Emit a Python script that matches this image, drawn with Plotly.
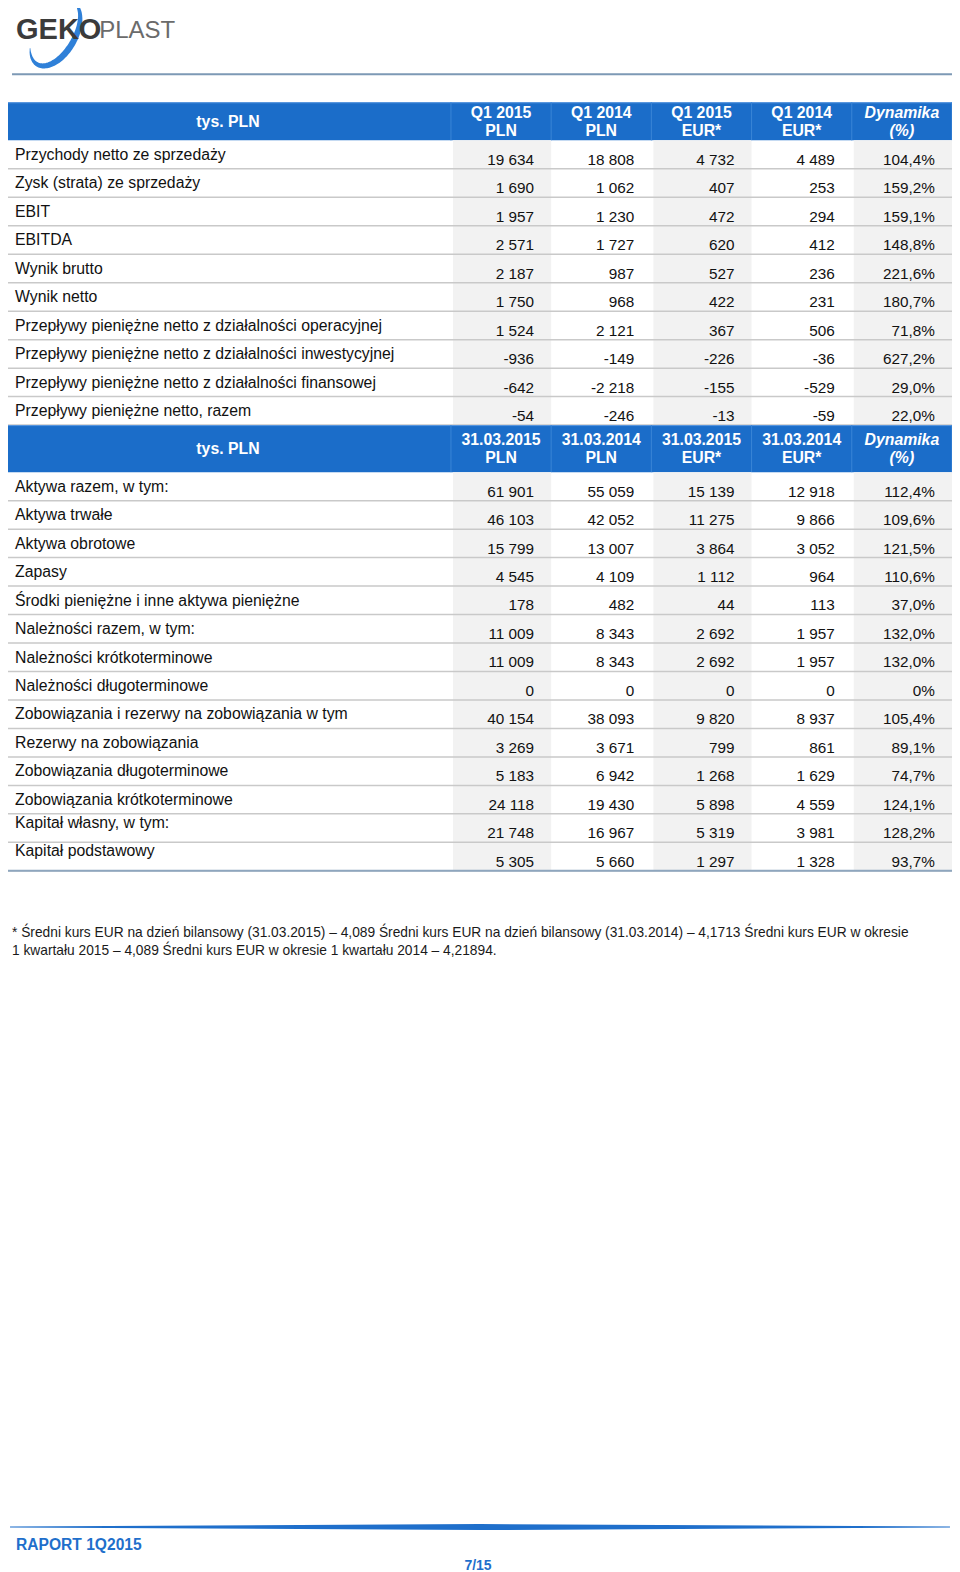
import numpy as np
import plotly.graph_objects as go

# ---- dane ----
naglowek_jednostka = "tys. PLN"

kolumny_1 = ["Q1 2015", "Q1 2014", "Q1 2015", "Q1 2014", "Dynamika"]
kolumny_2 = ["31.03.2015", "31.03.2014", "31.03.2015", "31.03.2014", "Dynamika"]
waluty = ["PLN", "PLN", "EUR*", "EUR*", "(%)"]

pozycje_1 = [
    "Przychody netto ze sprzedaży",
    "Zysk (strata) ze sprzedaży",
    "EBIT",
    "EBITDA",
    "Wynik brutto",
    "Wynik netto",
    "Przepływy pieniężne netto z działalności operacyjnej",
    "Przepływy pieniężne netto z działalności inwestycyjnej",
    "Przepływy pieniężne netto z działalności finansowej",
    "Przepływy pieniężne netto, razem",
]
q1_2015_pln = [19634, 1690, 1957, 2571, 2187, 1750, 1524, -936, -642, -54]
q1_2014_pln = [18808, 1062, 1230, 1727, 987, 968, 2121, -149, -2218, -246]
q1_2015_eur = [4732, 407, 472, 620, 527, 422, 367, -226, -155, -13]
q1_2014_eur = [4489, 253, 294, 412, 236, 231, 506, -36, -529, -59]
dynamika_1 = [104.4, 159.2, 159.1, 148.8, 221.6, 180.7, 71.8, 627.2, 29.0, 22.0]

pozycje_2 = [
    "Aktywa razem, w tym:",
    "Aktywa trwałe",
    "Aktywa obrotowe",
    "Zapasy",
    "Środki pieniężne i inne aktywa pieniężne",
    "Należności razem, w tym:",
    "Należności krótkoterminowe",
    "Należności długoterminowe",
    "Zobowiązania i rezerwy na zobowiązania w tym",
    "Rezerwy na zobowiązania",
    "Zobowiązania długoterminowe",
    "Zobowiązania krótkoterminowe",
    "Kapitał własny, w tym:",
    "Kapitał podstawowy",
]
d2015_pln = [61901, 46103, 15799, 4545, 178, 11009, 11009, 0, 40154, 3269, 5183, 24118, 21748, 5305]
d2014_pln = [55059, 42052, 13007, 4109, 482, 8343, 8343, 0, 38093, 3671, 6942, 19430, 16967, 5660]
d2015_eur = [15139, 11275, 3864, 1112, 44, 2692, 2692, 0, 9820, 799, 1268, 5898, 5319, 1297]
d2014_eur = [12918, 9866, 3052, 964, 113, 1957, 1957, 0, 8937, 861, 1629, 4559, 3981, 1328]
dynamika_2 = [112.4, 109.6, 121.5, 110.6, 37.0, 132.0, 132.0, 0, 105.4, 89.1, 74.7, 124.1, 128.2, 93.7]

przypis = [
    "* Średni kurs EUR na dzień bilansowy (31.03.2015) – 4,089 Średni kurs EUR na dzień bilansowy (31.03.2014) – 4,1713 Średni kurs EUR w okresie",
    "1 kwartału 2015 – 4,089 Średni kurs EUR w okresie 1 kwartału 2014 – 4,21894.",
]
stopka = "RAPORT 1Q2015"
strona = "7/15"

# ---- styl ----
W, H = 960, 1572
UW, UH = 958, 1568  # jednostki osi (skala strony)
OFF = 8  # margines <body> w przegladarce
FONT = "Liberation Sans, Arial, sans-serif"
BLUE = "#1b6dc9"
GRID = "#c9c9c9"
SHADE = "#f2f2f2"
LEFT, RIGHT = 5, 950
COL0 = 450
COLW = 100
ROWH = 28.4
TDY = 1.5  # korekta pionowa tekstu


def fmt(v):
    return f"{v:,}".replace(",", " ")


def fmt_pct(v):
    return "0%" if v == 0 else f"{v:.1f}".replace(".", ",") + "%"


shapes = []
traces = []


def txt(xs, ys, texts, pos, size=15.8, color="#111111", family=FONT):
    traces.append(go.Scatter(x=xs, y=[y + TDY for y in ys], text=texts, mode="text", textposition=pos,
                             textfont=dict(family=family, size=size, color=color),
                             hoverinfo="skip", showlegend=False))


def tabela(top, head_h, kolumny, pozycje, serie, label_dy):
    # naglowek
    shapes.append(dict(type="rect", x0=LEFT, x1=RIGHT, y0=top, y1=top + head_h,
                       fillcolor=BLUE, line=dict(width=0), layer="below"))
    shapes.append(dict(type="line", x0=LEFT, x1=RIGHT, y0=top + 0.5, y1=top + 0.5,
                       line=dict(color="#5d9ae0", width=1), layer="below"))
    for k in range(6):
        xk = COL0 + k * COLW
        shapes.append(dict(type="line", x0=xk, x1=xk, y0=top, y1=top + head_h,
                           line=dict(color="#3a85d6", width=1), layer="below"))
    mid = top + head_h / 2
    txt([(LEFT + COL0) / 2], [mid], [f"<b>{naglowek_jednostka}</b>"], "middle center", color="white")
    cx = [COL0 + COLW * (k + 0.5) for k in range(5)]
    l1, l2 = [], []
    for k in range(5):
        if k == 4:
            l1.append(f"<b><i>{kolumny[k]}</i></b>")
            l2.append(f"<b><i>{waluty[k]}</i></b>")
        else:
            l1.append(f"<b>{kolumny[k]}</b>")
            l2.append(f"<b>{waluty[k]}</b>")
    txt(cx, [mid - 9] * 5, l1, "middle center", color="white")
    txt(cx, [mid + 9] * 5, l2, "middle center", color="white")

    # wiersze
    r0 = top + head_h
    n = len(pozycje)
    r1 = r0 + n * ROWH
    for k in (0, 2, 4):
        shapes.append(dict(type="rect", x0=COL0 + k * COLW + 2, x1=COL0 + (k + 1) * COLW,
                           y0=r0, y1=r1, fillcolor=SHADE, line=dict(width=0), layer="below"))
    for i in range(n):
        yb = r0 + (i + 1) * ROWH
        shapes.append(dict(type="line", x0=LEFT, x1=RIGHT, y0=yb, y1=yb,
                           line=dict(color=GRID, width=1.5), layer="below"))
    ly = [r0 + i * ROWH + label_dy.get(i, 14) for i in range(n)]
    txt([15] * n, ly, pozycje, "middle right")
    vy = [r0 + i * ROWH + 19 for i in range(n)]
    for k, s in enumerate(serie):
        xr = COL0 + (k + 1) * COLW - 17
        teksty = [fmt_pct(v) for v in s] if k == 4 else [fmt(v) for v in s]
        txt([xr] * n, vy, teksty, "middle left", size=15.3)
    return r1


end1 = tabela(102, 38, kolumny_1, pozycje_1,
              [q1_2015_pln, q1_2014_pln, q1_2015_eur, q1_2014_eur, dynamika_1], {})
end2 = tabela(end1, 47, kolumny_2, pozycje_2,
              [d2015_pln, d2014_pln, d2015_eur, d2014_eur, dynamika_2], {12: 9, 13: 8})
shapes.append(dict(type="line", x0=LEFT, x1=RIGHT, y0=end2, y1=end2,
                   line=dict(color="#8ea6be", width=2), layer="below"))

# przypis
txt([12, 12], [930, 948], przypis, "middle right", size=13.75, color="#1a1a1a")

# logo
t = np.linspace(5 * np.pi / 4, -0.1, 90)
u = np.array([0.5, -0.866])
v = np.array([0.866, 0.5])
c = np.array([55.0, 33.0])
w = 6.0 * np.sin((t - t[-1]) / (t[0] - t[-1]) * np.pi) ** 0.8 + 0.4
outer = [c + (36 + wi / 2) * np.cos(ti) * u + (20 + wi / 2) * np.sin(ti) * v for ti, wi in zip(t, w)]
inner = [c + (36 - wi / 2) * np.cos(ti) * u + (20 - wi / 2) * np.sin(ti) * v for ti, wi in zip(t, w)]
pts = outer + inner[::-1]
path = "M " + " L ".join(f"{p[0]:.1f},{p[1]:.1f}" for p in pts) + " Z"
shapes.append(dict(type="path", path=path, fillcolor="#2f80d8", line=dict(width=0), layer="below"))
txt([16], [30], ["<b>GEKO</b>"], "middle right", size=29, color="#3b3b3b")
txt([99], [30], ["PLAST"], "middle right", size=24, color="#6b6b6b")
shapes.append(dict(type="line", x0=12, x1=950, y0=74, y1=74,
                   line=dict(color="#7d99b5", width=2), layer="below"))

# stopka
shapes.append(dict(type="path",
                   path="M 10,1522.6 L 479,1520.2 L 948,1522.6 L 948,1523.6 L 479,1526.2 L 10,1523.6 Z",
                   fillcolor="#1f6fcb", line=dict(width=0), layer="below"))
txt([16], [1541], [f"<b>{stopka}</b>"], "middle right", size=15.6, color="#1f6fcb")
txt([477], [1561], [f"<b>{strona}</b>"], "middle center", size=14, color="#1f6fcb")

fig = go.Figure(data=traces)
fig.update_layout(
    width=W - OFF, height=H - OFF,
    margin=dict(l=0, r=0, t=0, b=0),
    paper_bgcolor="white", plot_bgcolor="white",
    shapes=shapes, showlegend=False,
    xaxis=dict(range=[OFF * UW / W, UW], visible=False, fixedrange=True),
    yaxis=dict(range=[UH, OFF * UH / H], visible=False, fixedrange=True),
)
fig.write_html("out.html")
